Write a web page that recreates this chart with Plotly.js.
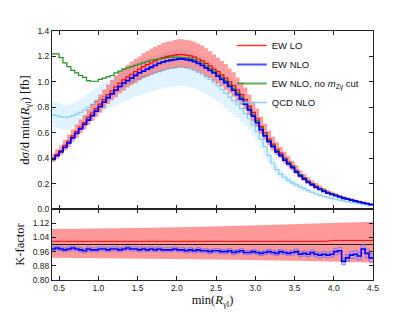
<!DOCTYPE html>
<html><head><meta charset="utf-8">
<script src="https://cdn.plot.ly/plotly-3.0.1.min.js"></script>
<style>html,body{margin:0;padding:0;background:#fff}#c{width:415px;height:312px}</style>
</head><body><div id="c"></div>
<script>
// histogram: bins of width 0.05 from 0.40 to 4.50 (82 bins)
const BIN_START = 0.40, BIN_W = 0.05;

const ewLO = [0.40,0.43,0.46,0.50,0.535,0.575,0.61,0.645,0.68,0.72,0.755,0.79,0.825,0.86,0.90,0.93,0.96,0.99,1.015,1.04,1.06,1.08,1.10,1.12,1.135,1.15,1.165,1.18,1.19,1.20,1.205,1.21,1.215,1.215,1.21,1.205,1.195,1.18,1.165,1.145,1.125,1.10,1.08,1.055,1.03,1.00,0.97,0.935,0.90,0.86,0.81,0.76,0.71,0.65,0.60,0.55,0.51,0.47,0.44,0.40,0.37,0.34,0.305,0.27,0.245,0.22,0.20,0.18,0.163,0.147,0.132,0.121,0.11,0.10,0.09,0.082,0.074,0.066,0.059,0.052,0.044,0.037];
const ewLOhi = [0.435,0.47,0.50,0.545,0.585,0.625,0.665,0.705,0.74,0.785,0.825,0.86,0.90,0.94,0.98,1.015,1.05,1.08,1.11,1.135,1.16,1.18,1.20,1.225,1.24,1.26,1.275,1.29,1.305,1.315,1.32,1.33,1.335,1.335,1.33,1.325,1.315,1.30,1.285,1.265,1.24,1.215,1.19,1.165,1.14,1.105,1.075,1.035,0.995,0.955,0.90,0.845,0.79,0.725,0.67,0.615,0.57,0.525,0.49,0.45,0.415,0.38,0.345,0.305,0.275,0.25,0.225,0.205,0.185,0.166,0.15,0.137,0.125,0.113,0.102,0.093,0.084,0.075,0.067,0.059,0.05,0.042];
const ewLOlo = [0.37,0.395,0.425,0.46,0.49,0.53,0.56,0.595,0.625,0.66,0.695,0.725,0.76,0.79,0.825,0.855,0.88,0.91,0.93,0.955,0.975,0.99,1.01,1.03,1.04,1.055,1.07,1.08,1.09,1.10,1.105,1.11,1.115,1.115,1.11,1.105,1.095,1.08,1.065,1.045,1.03,1.005,0.985,0.965,0.94,0.91,0.885,0.85,0.82,0.785,0.74,0.69,0.645,0.59,0.545,0.50,0.46,0.425,0.40,0.36,0.335,0.305,0.275,0.245,0.22,0.198,0.18,0.162,0.147,0.132,0.119,0.109,0.099,0.09,0.081,0.074,0.066,0.059,0.053,0.047,0.04,0.033];
const ewNLO = [0.39,0.42,0.45,0.485,0.52,0.56,0.595,0.63,0.665,0.70,0.735,0.77,0.805,0.84,0.875,0.905,0.935,0.965,0.99,1.01,1.03,1.05,1.07,1.085,1.10,1.115,1.13,1.145,1.155,1.165,1.17,1.175,1.18,1.18,1.175,1.17,1.16,1.145,1.13,1.11,1.09,1.07,1.045,1.02,0.995,0.965,0.935,0.90,0.865,0.825,0.78,0.73,0.68,0.625,0.575,0.53,0.49,0.45,0.42,0.385,0.355,0.325,0.29,0.26,0.235,0.21,0.19,0.17,0.155,0.14,0.125,0.115,0.105,0.095,0.085,0.078,0.07,0.063,0.056,0.049,0.042,0.035];
const ewNLOnoCut = [1.22,1.22,1.19,1.15,1.12,1.09,1.07,1.05,1.035,1.01,1.005,1.005,1.02,1.03,1.04,1.05,1.07,1.085,1.10,1.11,1.12,1.13,1.14,1.15,1.16,1.17,1.175,1.18,1.185,1.19,1.195,1.195,1.195,1.19,1.19,1.185,1.175,1.16,1.145,1.125,1.105,1.085,1.06,1.035,1.01,0.98,0.95,0.915,0.88,0.84,0.795,0.745,0.695,0.64,0.59,0.54,0.50,0.46,0.43,0.395,0.365,0.335,0.30,0.27,0.243,0.218,0.197,0.177,0.161,0.146,0.131,0.12,0.109,0.099,0.089,0.081,0.073,0.065,0.058,0.05,0.043,0.036];
const qcdNLO = [0.74,0.735,0.725,0.72,0.725,0.735,0.745,0.76,0.78,0.80,0.825,0.845,0.865,0.885,0.90,0.92,0.935,0.955,0.97,0.985,1.00,1.015,1.025,1.04,1.05,1.06,1.07,1.08,1.09,1.10,1.105,1.11,1.115,1.115,1.11,1.10,1.09,1.075,1.06,1.04,1.02,0.995,0.97,0.94,0.91,0.88,0.85,0.82,0.79,0.75,0.71,0.66,0.61,0.55,0.49,0.42,0.36,0.31,0.275,0.25,0.225,0.205,0.19,0.175,0.16,0.145,0.132,0.12,0.11,0.10,0.092,0.084,0.077,0.07,0.064,0.058,0.053,0.048,0.043,0.038,0.033,0.028];
const qcdHi = [0.84,0.835,0.825,0.815,0.82,0.83,0.845,0.86,0.88,0.905,0.93,0.955,0.975,1.00,1.015,1.04,1.055,1.08,1.095,1.11,1.13,1.145,1.16,1.175,1.185,1.20,1.21,1.22,1.23,1.24,1.25,1.255,1.26,1.26,1.255,1.245,1.23,1.215,1.20,1.175,1.155,1.125,1.095,1.06,1.03,0.995,0.96,0.925,0.89,0.85,0.80,0.745,0.69,0.62,0.555,0.475,0.405,0.35,0.31,0.28,0.255,0.23,0.215,0.198,0.18,0.164,0.149,0.136,0.124,0.113,0.104,0.095,0.087,0.079,0.072,0.066,0.06,0.054,0.049,0.043,0.037,0.032];
const qcdLo = [0.645,0.64,0.63,0.625,0.63,0.64,0.65,0.66,0.68,0.695,0.72,0.735,0.755,0.77,0.785,0.80,0.815,0.83,0.845,0.855,0.87,0.885,0.89,0.905,0.915,0.92,0.93,0.94,0.95,0.955,0.96,0.965,0.97,0.97,0.965,0.955,0.95,0.935,0.92,0.905,0.885,0.865,0.845,0.82,0.79,0.765,0.74,0.715,0.685,0.655,0.62,0.575,0.53,0.48,0.425,0.365,0.315,0.27,0.24,0.218,0.196,0.178,0.165,0.152,0.139,0.126,0.115,0.104,0.096,0.087,0.08,0.073,0.067,0.061,0.056,0.05,0.046,0.042,0.037,0.033,0.029,0.024];

// K-factor panel
const kFactor = [0.975,0.98,0.975,0.97,0.975,0.98,0.975,0.97,0.965,0.975,0.97,0.97,0.975,0.975,0.97,0.975,0.975,0.97,0.975,0.98,0.975,0.975,0.97,0.975,0.97,0.975,0.97,0.975,0.97,0.97,0.97,0.975,0.97,0.97,0.965,0.97,0.965,0.97,0.965,0.965,0.96,0.965,0.965,0.96,0.96,0.965,0.955,0.96,0.965,0.955,0.955,0.96,0.955,0.95,0.955,0.96,0.955,0.95,0.96,0.955,0.95,0.955,0.96,0.945,0.95,0.945,0.955,0.945,0.94,0.945,0.94,0.945,0.96,0.965,0.905,0.925,0.94,0.945,0.935,0.975,0.95,0.925];
const kErr = [0.012,0.012,0.012,0.012,0.012,0.012,0.012,0.012,0.012,0.012,0.012,0.012,0.012,0.012,0.012,0.012,0.012,0.012,0.012,0.012,0.012,0.012,0.012,0.012,0.012,0.012,0.012,0.012,0.012,0.012,0.012,0.012,0.012,0.012,0.012,0.012,0.012,0.012,0.012,0.012,0.012,0.012,0.012,0.012,0.012,0.012,0.012,0.012,0.012,0.012,0.012,0.012,0.012,0.012,0.012,0.013,0.013,0.013,0.013,0.013,0.013,0.014,0.014,0.014,0.014,0.015,0.015,0.015,0.016,0.016,0.016,0.017,0.018,0.018,0.02,0.02,0.02,0.022,0.022,0.024,0.024,0.025];
const kBandX = [0.40, 1.5, 2.5, 3.5, 4.5];
const kBandHi = [1.088, 1.093, 1.102, 1.113, 1.128];
const kBandLo = [0.925, 0.921, 0.915, 0.908, 0.898];
const kLOx = [0.40, 3.9, 4.0, 4.5];
const kLOline = [1.018, 1.018, 1.023, 1.023];
const kUnityX = [0.40, 4.5];
const kUnity = [1.0, 1.0];

function steps(vals){
  const x=[], y=[];
  for(let i=0;i<vals.length;i++){ x.push(BIN_START+i*BIN_W); y.push(vals[i]); }
  x.push(BIN_START+vals.length*BIN_W); y.push(vals[vals.length-1]);
  return {x, y};
}
function tr(vals, opts){ const s=steps(vals); return Object.assign({type:'scatter', mode:'lines', x:s.x, y:s.y, line:{shape:'hv', width:1}, hoverinfo:'skip', showlegend:false}, opts); }

const RED='#ff0000', BLUE='#0000ff', GREEN='#1f8f1f', LB='#87cefa';
const kLo = kFactor.map((v,i)=>v-kErr[i]);
const kHi = kFactor.map((v,i)=>v+kErr[i]);

const data = [
  tr(qcdLo, {line:{shape:'hv', width:0}}),
  tr(qcdHi, {line:{shape:'hv', width:0}, fill:'tonexty', fillcolor:'rgba(135,206,250,0.25)'}),
  tr(qcdNLO, {line:{shape:'hv', width:1.2, color:LB}}),
  tr(ewLOlo, {line:{shape:'hv', width:0}}),
  tr(ewLOhi, {line:{shape:'hv', width:0}, fill:'tonexty', fillcolor:'rgba(255,0,0,0.38)'}),
  tr(ewLO, {line:{shape:'hv', width:1.2, color:RED}}),
  tr(ewNLOnoCut, {line:{shape:'hv', width:1.2, color:GREEN}}),
  tr(ewNLO, {line:{shape:'hv', width:1.8, color:BLUE}}),
  // legend entries
  {type:'scatter', mode:'lines', x:[null], y:[null], name:'EW LO', line:{color:'rgba(255,0,0,0.8)', width:1.5}, showlegend:true},
  {type:'scatter', mode:'lines', x:[null], y:[null], name:'EW NLO', line:{color:'rgba(0,0,255,0.7)', width:2}, showlegend:true},
  {type:'scatter', mode:'lines', x:[null], y:[null], name:'EW NLO, no <i>m</i><sub>Zγ</sub> cut', line:{color:'rgba(31,143,31,0.7)', width:2}, showlegend:true},
  {type:'scatter', mode:'lines', x:[null], y:[null], name:'QCD NLO', line:{color:LB, width:1.5}, showlegend:true},
  // K-factor panel
  {type:'scatter', mode:'lines', x:kBandX, y:kBandLo, xaxis:'x2', yaxis:'y2', line:{width:0}, hoverinfo:'skip', showlegend:false},
  {type:'scatter', mode:'lines', x:kBandX, y:kBandHi, xaxis:'x2', yaxis:'y2', line:{width:0}, fill:'tonexty', fillcolor:'rgba(255,0,0,0.4)', hoverinfo:'skip', showlegend:false},
  {type:'scatter', mode:'lines', x:kLOx, y:kLOline, xaxis:'x2', yaxis:'y2', line:{color:RED, width:1}, hoverinfo:'skip', showlegend:false},
  {type:'scatter', mode:'lines', x:kUnityX, y:kUnity, xaxis:'x2', yaxis:'y2', line:{color:'#222', width:1}, hoverinfo:'skip', showlegend:false},
  Object.assign(tr(kLo, {line:{shape:'hv', width:0.8, color:'rgba(90,90,255,0.7)'}}), {xaxis:'x2', yaxis:'y2'}),
  Object.assign(tr(kHi, {line:{shape:'hv', width:0.8, color:'rgba(90,90,255,0.7)'}, fill:'tonexty', fillcolor:'rgba(150,150,255,0.45)'}), {xaxis:'x2', yaxis:'y2'}),
  Object.assign(tr(kFactor, {line:{shape:'hv', width:1.6, color:BLUE}}), {xaxis:'x2', yaxis:'y2'})
];

const tickFont = {family:'Liberation Sans, Arial, sans-serif', size:8.5, color:'#222'};
const titleFont = {family:'Liberation Serif, DejaVu Serif, serif', size:12.5, color:'#111'};
const common = {showgrid:false, zeroline:false, showline:true, linecolor:'#222', linewidth:1, ticks:'inside', ticklen:4, tickcolor:'#222', mirror:'allticks', tickfont:tickFont};

const layout = {
  width:415, height:312,
  margin:{l:52, r:42, t:31, b:32},
  paper_bgcolor:'#fff', plot_bgcolor:'#fff',
  showlegend:true,
  legend:{x:0.56, y:1.0, xanchor:'left', yanchor:'top', bgcolor:'rgba(0,0,0,0)', borderwidth:0, traceorder:'normal',
          font:{family:'Liberation Sans, Arial, sans-serif', size:9.5, color:'#111'}, tracegroupgap:0},
  xaxis: Object.assign({}, common, {range:[0.41,4.5], dtick:0.5, tick0:0, showticklabels:false, anchor:'y', domain:[0,1]}),
  yaxis: Object.assign({}, common, {range:[0,1.4], dtick:0.2, tick0:0, tickformat:'.1f', domain:[0.285,1], anchor:'x',
          title:{text:'dσ/d min(<i>R</i><sub>γl</sub>) [fb]', font:titleFont, standoff:5}}),
  xaxis2: Object.assign({}, common, {range:[0.41,4.5], dtick:0.5, tick0:0, tickformat:'.1f', anchor:'y2', domain:[0,1],
          title:{text:'min(<i>R</i><sub>γl</sub>)', font:titleFont, standoff:2}}),
  yaxis2: Object.assign({}, common, {range:[0.80,1.20], tickvals:[0.80,0.88,0.96,1.04,1.12], tickformat:'.2f', domain:[0,0.285], anchor:'x2',
          title:{text:'K-factor', font:titleFont, standoff:5}})
};

Plotly.newPlot('c', data, layout, {staticPlot:true, displayModeBar:false});
</script></body></html>
